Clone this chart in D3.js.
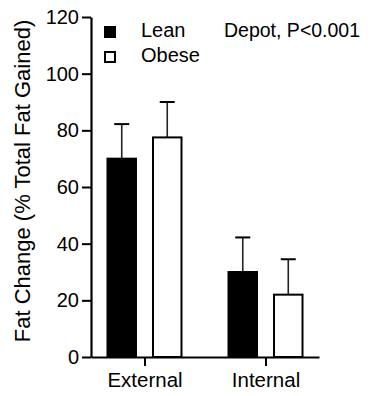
<!DOCTYPE html>
<html>
<head>
<meta charset="utf-8">
<script src="https://cdn.jsdelivr.net/npm/d3@7"></script>
<style>
  html, body { margin: 0; padding: 0; background: #fff; }
  svg text { font-family: Arial, "Liberation Sans", sans-serif; fill: #000; }
</style>
</head>
<body>
<div id="chart"></div>
<script>
// data
const depots = ['External', 'Internal'];
const groups = ['Lean', 'Obese'];
const leanMean = [70, 30];
const leanErr = [12.2, 12.2];
const obeseMean = [77.5, 22];
const obeseErr = [12.5, 12.5];
const yTicks = [0, 20, 40, 60, 80, 100, 120];
const annotation = 'Depot, P<0.001';
const yLabel = 'Fat Change (% Total Fat Gained)';

const W = 372, H = 396;
const margin = { top: 17, right: 53, bottom: 39, left: 91 };
const width = W - margin.left - margin.right;
const height = H - margin.top - margin.bottom;

const svg = d3.select('#chart')
    .append('svg')
    .attr('width', W)
    .attr('height', H);

const g = svg.append('g')
    .attr('transform', `translate(${margin.left},${margin.top})`);

const x = d3.scalePoint()
    .domain(depots)
    .range([0, width])
    .padding(0.442);

const xInner = d3.scaleBand()
    .domain(groups)
    .range([-38, 38])
    .paddingInner(0.33);

const y = d3.scaleLinear()
    .domain([0, 120])
    .range([height, 0]);

// rows for bars
const rows = [];
depots.forEach((d, i) => {
    rows.push({ depot: d, group: 'Lean', mean: leanMean[i], err: leanErr[i] });
    rows.push({ depot: d, group: 'Obese', mean: obeseMean[i], err: obeseErr[i] });
});

const bw = xInner.bandwidth();

// error bars (upper only) drawn behind bars
const eb = g.selectAll('.err')
    .data(rows)
    .enter()
    .append('g')
    .attr('class', 'err');

eb.append('line')
    .attr('x1', d => x(d.depot) + xInner(d.group) + bw / 2)
    .attr('x2', d => x(d.depot) + xInner(d.group) + bw / 2)
    .attr('y1', d => y(d.mean))
    .attr('y2', d => y(d.mean + d.err))
    .attr('stroke', '#222')
    .attr('stroke-width', 1.6);

eb.append('line')
    .attr('x1', d => x(d.depot) + xInner(d.group) + bw / 2 - 7.5)
    .attr('x2', d => x(d.depot) + xInner(d.group) + bw / 2 + 7.5)
    .attr('y1', d => y(d.mean + d.err))
    .attr('y2', d => y(d.mean + d.err))
    .attr('stroke', '#000')
    .attr('stroke-width', 2);

// bars
g.selectAll('.bar')
    .data(rows)
    .enter()
    .append('rect')
    .attr('class', 'bar')
    .attr('x', d => x(d.depot) + xInner(d.group) + 1)
    .attr('width', bw - 2)
    .attr('y', d => y(d.mean))
    .attr('height', d => y(0) - y(d.mean))
    .attr('fill', d => d.group === 'Lean' ? '#000' : '#fff')
    .attr('stroke', '#000')
    .attr('stroke-width', 2);

// y axis
const yAxis = g.append('g')
    .call(d3.axisLeft(y).tickValues(yTicks).tickSize(9).tickPadding(3).tickSizeOuter(0));
yAxis.select('.domain').attr('stroke-width', 2.2);
yAxis.selectAll('.tick line').attr('stroke-width', 2);
yAxis.selectAll('.tick text').style('font-size', '20px');

// x axis
const xAxis = g.append('g')
    .attr('transform', `translate(0,${height})`)
    .call(d3.axisBottom(x).tickSize(9).tickPadding(6).tickSizeOuter(0));
xAxis.select('.domain').attr('stroke-width', 2.2);
xAxis.selectAll('.tick line').attr('stroke-width', 2);
xAxis.selectAll('.tick text').style('font-size', '20.5px');

// y label
svg.append('text')
    .attr('transform', 'rotate(-90)')
    .attr('x', -181)
    .attr('y', 30)
    .style('text-anchor', 'middle')
    .style('font-size', '22px')
    .text(yLabel);

// legend
const legend = svg.append('g')
    .attr('transform', 'translate(104,26)');

const li = legend.selectAll('.li')
    .data(groups)
    .enter()
    .append('g')
    .attr('transform', (d, i) => `translate(0,${i * 25})`);

li.append('rect')
    .attr('x', 1)
    .attr('y', 1)
    .attr('width', 10)
    .attr('height', 10)
    .attr('fill', d => d === 'Lean' ? '#000' : '#fff')
    .attr('stroke', '#000')
    .attr('stroke-width', 2);

li.append('text')
    .attr('x', 37)
    .attr('y', 11)
    .style('font-size', '20px')
    .text(d => d);

svg.append('text')
    .attr('x', 224)
    .attr('y', 37)
    .style('font-size', '19.5px')
    .text(annotation);
</script>
</body>
</html>
